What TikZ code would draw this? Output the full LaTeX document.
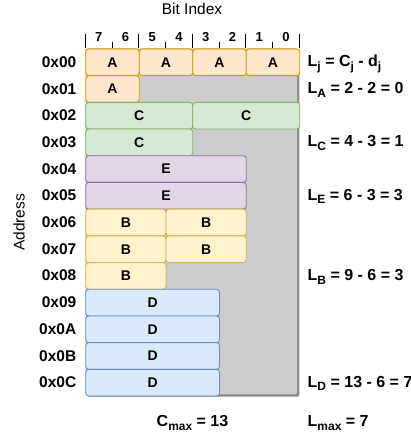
\documentclass[tikz,border=0pt]{standalone}
\usepackage{fontspec}
\setmainfont{Liberation Sans}
\definecolor{aF}{HTML}{FFE6CC}\definecolor{aD}{HTML}{D79B00}
\definecolor{cF}{HTML}{D5E8D4}\definecolor{cD}{HTML}{82B366}
\definecolor{eF}{HTML}{E1D5E7}\definecolor{eD}{HTML}{9673A6}
\definecolor{bF}{HTML}{FFF2CC}\definecolor{bD}{HTML}{D6B656}
\definecolor{dF}{HTML}{DAE8FC}\definecolor{dD}{HTML}{6C8EBF}
\definecolor{bgF}{HTML}{CCCCCC}\definecolor{bgS}{HTML}{8C8C8C}
\newcommand\sbs[1]{\raisebox{-3.8pt}{\fontsize{12}{12}\selectfont #1}}
\begin{document}
\begin{tikzpicture}[x=1pt,y=-1pt,
  blk/.style={draw, line width=0.9pt, rounded corners=3pt, anchor=north west,
    minimum height=26.7pt, inner sep=0pt, font=\fontsize{14}{14}\selectfont\bfseries},
  blkA/.style={blk, fill=aF, draw=aD},
  blkC/.style={blk, fill=cF, draw=cD},
  blkE/.style={blk, fill=eF, draw=eD},
  blkB/.style={blk, fill=bF, draw=bD},
  blkD/.style={blk, fill=dF, draw=dD},
  rowlbl/.style={anchor=base east, inner sep=0pt, font=\fontsize{15.5}{15.5}\selectfont\bfseries},
  eqn/.style={anchor=base west, inner sep=0pt, font=\fontsize{16}{16}\selectfont\bfseries},
  bitlbl/.style={anchor=base, inner sep=0pt, font=\fontsize{13}{13}\selectfont\bfseries},
  tick/.style={line width=1pt}]
\useasboundingbox (0,0) rectangle (410,438);
% gray background with shadow
\fill[bgS, rounded corners=2pt] (87.6,50.8) rectangle (299.3,396.7);
\fill[bgF, rounded corners=2pt] (85.3,48.5) rectangle (297,394.4);
% ticks
\foreach \k in {0,2,4,6,8} \draw[tick] (85.3+26.75*\k,34) -- (85.3+26.75*\k,48.5);
\foreach \k in {1,3,5,7} \draw[tick] (85.3+26.75*\k,42) -- (85.3+26.75*\k,48.5);
\foreach \b [count=\c from 0] in {7,6,5,4,3,2,1,0}
  \node[bitlbl] (bit\b) at (85.3+26.75*\c+13.4,41.8) {\b};
\node[anchor=base, inner sep=0pt, font=\fontsize{15.5}{15.5}\selectfont] (bitidx) at (192,15) {Bit Index};
\node[rotate=90, inner sep=0pt, font=\fontsize{15.5}{15.5}\selectfont] (addr) at (19,222.5) {Address};
% row labels
\foreach \r/\t in {0/0x00,1/0x01,2/0x02,3/0x03,4/0x04,5/0x05,6/0x06,7/0x07,8/0x08,9/0x09,10/0x0A,11/0x0B,12/0x0C}
  \node[rowlbl] (row\r) at (76.5,48.5+26.7*\r+13.35+5.5) {\t};
% blocks
\begin{scope}[minimum width=53.5pt]
\node[blkA] (a1) at (85.3,48.5) {A};
\node[blkA] (a2) at (138.8,48.5) {A};
\node[blkA] (a3) at (192.3,48.5) {A};
\node[blkA] (a4) at (245.8,48.5) {A};
\node[blkA] (a5) at (85.3,75.2) {A};
\end{scope}
\node[blkC, minimum width=107pt] (c1) at (85.3,101.9) {C};
\node[blkC, minimum width=107pt] (c2) at (192.3,101.9) {C};
\node[blkC, minimum width=107pt] (c3) at (85.3,128.6) {C};
\node[blkE, minimum width=160.5pt] (e1) at (85.3,155.3) {E};
\node[blkE, minimum width=160.5pt] (e2) at (85.3,182.0) {E};
\node[blkB, minimum width=80.25pt] (b1) at (85.3,208.7) {B};
\node[blkB, minimum width=80.25pt] (b2) at (165.55,208.7) {B};
\node[blkB, minimum width=80.25pt] (b3) at (85.3,235.4) {B};
\node[blkB, minimum width=80.25pt] (b4) at (165.55,235.4) {B};
\node[blkB, minimum width=80.25pt] (b5) at (85.3,262.1) {B};
\node[blkD, minimum width=133.75pt] (d1) at (85.3,288.8) {D};
\node[blkD, minimum width=133.75pt] (d2) at (85.3,315.5) {D};
\node[blkD, minimum width=133.75pt] (d3) at (85.3,342.2) {D};
\node[blkD, minimum width=133.75pt] (d4) at (85.3,368.9) {D};
% equations
\node[eqn] (eq0) at (307.5,66.9) {L\sbs{j} = C\sbs{j} - d\sbs{j}};
\node[eqn] (eqA) at (307.5,93.3) {L\sbs{A} = 2 - 2 = 0};
\node[eqn] (eqC) at (307.5,146.7) {L\sbs{C} = 4 - 3 = 1};
\node[eqn] (eqE) at (307.5,200.1) {L\sbs{E} = 6 - 3 = 3};
\node[eqn] (eqB) at (307.5,280.2) {L\sbs{B} = 9 - 6 = 3};
\node[eqn] (eqD) at (307.5,387.0) {L\sbs{D} = 13 - 6 = 7};
\node[eqn] (cmax) at (156.5,426.5) {C\sbs{max} = 13};
\node[eqn] (lmax) at (307.5,426.5) {L\sbs{max} = 7};
\end{tikzpicture}
\end{document}
